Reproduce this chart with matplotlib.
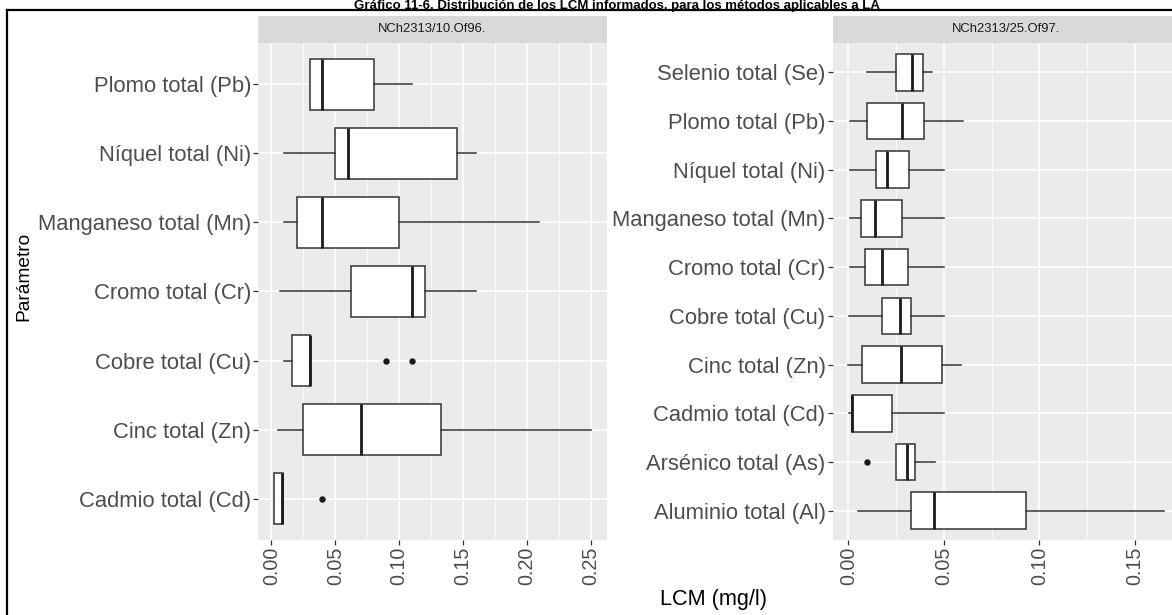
import matplotlib
matplotlib.use("Agg")
import matplotlib.pyplot as plt
from matplotlib.patches import Rectangle
from matplotlib.lines import Line2D
from matplotlib.ticker import MultipleLocator

plt.rcParams['font.family'] = ['Liberation Sans', 'DejaVu Sans']

# NCh2313/10.Of96 - parameters listed bottom to top
cat_10 = ['Cadmio total (Cd)', 'Cinc total (Zn)', 'Cobre total (Cu)', 'Cromo total (Cr)',
          'Manganeso total (Mn)', 'Níquel total (Ni)', 'Plomo total (Pb)']
lo_10 = [0.002, 0.005, 0.010, 0.007, 0.010, 0.010, 0.030]
q1_10 = [0.002, 0.025, 0.016, 0.0625, 0.020, 0.050, 0.030]
med_10 = [0.008, 0.070, 0.030, 0.110, 0.040, 0.060, 0.040]
q3_10 = [0.0095, 0.1325, 0.030, 0.120, 0.100, 0.145, 0.080]
hi_10 = [0.0095, 0.250, 0.030, 0.160, 0.209, 0.160, 0.110]
out_10 = [[0.040], [], [0.090, 0.110], [], [], [], []]

# NCh2313/25.Of97 - parameters listed bottom to top
cat_25 = ['Aluminio total (Al)', 'Arsénico total (As)', 'Cadmio total (Cd)', 'Cinc total (Zn)',
          'Cobre total (Cu)', 'Cromo total (Cr)', 'Manganeso total (Mn)', 'Níquel total (Ni)',
          'Plomo total (Pb)', 'Selenio total (Se)']
lo_25 = [0.005, 0.025, 0.0005, 0.000, 0.0005, 0.001, 0.001, 0.001, 0.001, 0.010]
q1_25 = [0.033, 0.025, 0.002, 0.007, 0.0177, 0.009, 0.0065, 0.0145, 0.010, 0.025]
med_25 = [0.045, 0.0305, 0.002, 0.0275, 0.027, 0.0175, 0.014, 0.020, 0.028, 0.0333]
q3_25 = [0.093, 0.035, 0.023, 0.049, 0.0327, 0.031, 0.028, 0.032, 0.0396, 0.039]
hi_25 = [0.165, 0.0455, 0.050, 0.059, 0.050, 0.050, 0.050, 0.050, 0.060, 0.044]
out_25 = [[], [0.010], [], [], [], [], [], [], [], []]

W, H = 1172, 615
fig = plt.figure(figsize=(W / 100, H / 100), dpi=100)
fig.patch.set_facecolor('white')


def px_box(x0, x1, y0, y1):
    # pixel box (top-left origin) -> figure fraction rect
    return [x0 / W, 1 - y1 / H, (x1 - x0) / W, (y1 - y0) / H]


def draw_panel(ax, cats, lo, q1, med, q3, hi, outs, strip, majors):
    stats = []
    for i in range(len(cats)):
        stats.append(dict(whislo=lo[i], q1=q1[i], med=med[i], q3=q3[i],
                          whishi=hi[i], fliers=outs[i]))
    pos = list(range(1, len(cats) + 1))
    ax.bxp(stats, positions=pos, widths=0.75, orientation='horizontal',
           patch_artist=True, showcaps=False,
           boxprops=dict(facecolor='white', edgecolor='#333333', linewidth=1.1),
           medianprops=dict(color='#1a1a1a', linewidth=2.0),
           whiskerprops=dict(color='#333333', linewidth=1.1),
           flierprops=dict(marker='o', markerfacecolor='#1a1a1a',
                           markeredgecolor='#1a1a1a', markersize=3.6))

    # ggplot-style 5% expansion of the data range
    vals = lo + hi + [v for o in outs for v in o]
    span = max(vals) - min(vals)
    ax.set_xlim(min(vals) - 0.05 * span, max(vals) + 0.05 * span)
    ax.set_ylim(0.4, len(cats) + 0.6)

    ax.set_facecolor('#EBEBEB')
    ax.xaxis.set_major_locator(MultipleLocator(majors))
    ax.xaxis.set_minor_locator(MultipleLocator(majors / 2))
    ax.grid(which='major', color='white', linewidth=1.1)
    ax.grid(which='minor', axis='x', color='white', linewidth=0.55)
    ax.set_axisbelow(True)
    for s in ax.spines.values():
        s.set_visible(False)

    ax.set_yticks(pos)
    ax.set_yticklabels(cats)
    ax.tick_params(axis='both', which='major', length=3.5, width=0.9,
                   color='#333333', labelcolor='#4D4D4D', pad=1.5)
    ax.tick_params(axis='y', labelsize=15.8)
    ax.tick_params(axis='x', labelsize=14.2, labelrotation=90)
    ax.tick_params(which='minor', length=0)
    ax.xaxis.set_major_formatter(plt.FuncFormatter(lambda v, p: f'{v:.2f}'))

    # facet strip on top of the panel
    sh = 27 / (540 - 43)
    ax.add_patch(Rectangle((0, 1), 1, sh, transform=ax.transAxes, clip_on=False,
                           facecolor='#D9D9D9', edgecolor='none'))
    ax.text(0.5, 1 + sh / 2, strip, transform=ax.transAxes, ha='center',
            va='center', fontsize=9.4, color='#1A1A1A')


ax1 = fig.add_axes(px_box(258, 607, 43, 540))
draw_panel(ax1, cat_10, lo_10, q1_10, med_10, q3_10, hi_10, out_10,
           'NCh2313/10.Of96.', 0.05)

ax2 = fig.add_axes(px_box(832.5, 1179.5, 43, 540))
draw_panel(ax2, cat_25, lo_25, q1_25, med_25, q3_25, hi_25, out_25,
           'NCh2313/25.Of97.', 0.05)

# axis titles shared by both panels
fig.text(714 / W, 1 - 600 / H, 'LCM (mg/l)', ha='center', va='center',
         fontsize=15.6, color='black')
fig.text(24 / W, 1 - 276 / H, 'Parámetro', ha='center', va='center',
         rotation=90, fontsize=13.8, color='black')

# caption at the top and the frame around the chart
fig.text(617 / W, 1 - 8.5 / H, 'Gráfico 11-6. Distribución de los LCM informados, '
         'para los métodos aplicables a LA', ha='center', va='baseline',
         fontsize=9.5, fontweight='bold', color='black')
fig.add_artist(Line2D([7 / W, 7 / W], [-0.1, 1 - 10 / H], color='black',
                      linewidth=1.6, transform=fig.transFigure))
fig.add_artist(Line2D([7 / W, 1.1], [1 - 10 / H, 1 - 10 / H], color='black',
                      linewidth=1.6, transform=fig.transFigure))

fig.savefig('out.png', dpi=100)
